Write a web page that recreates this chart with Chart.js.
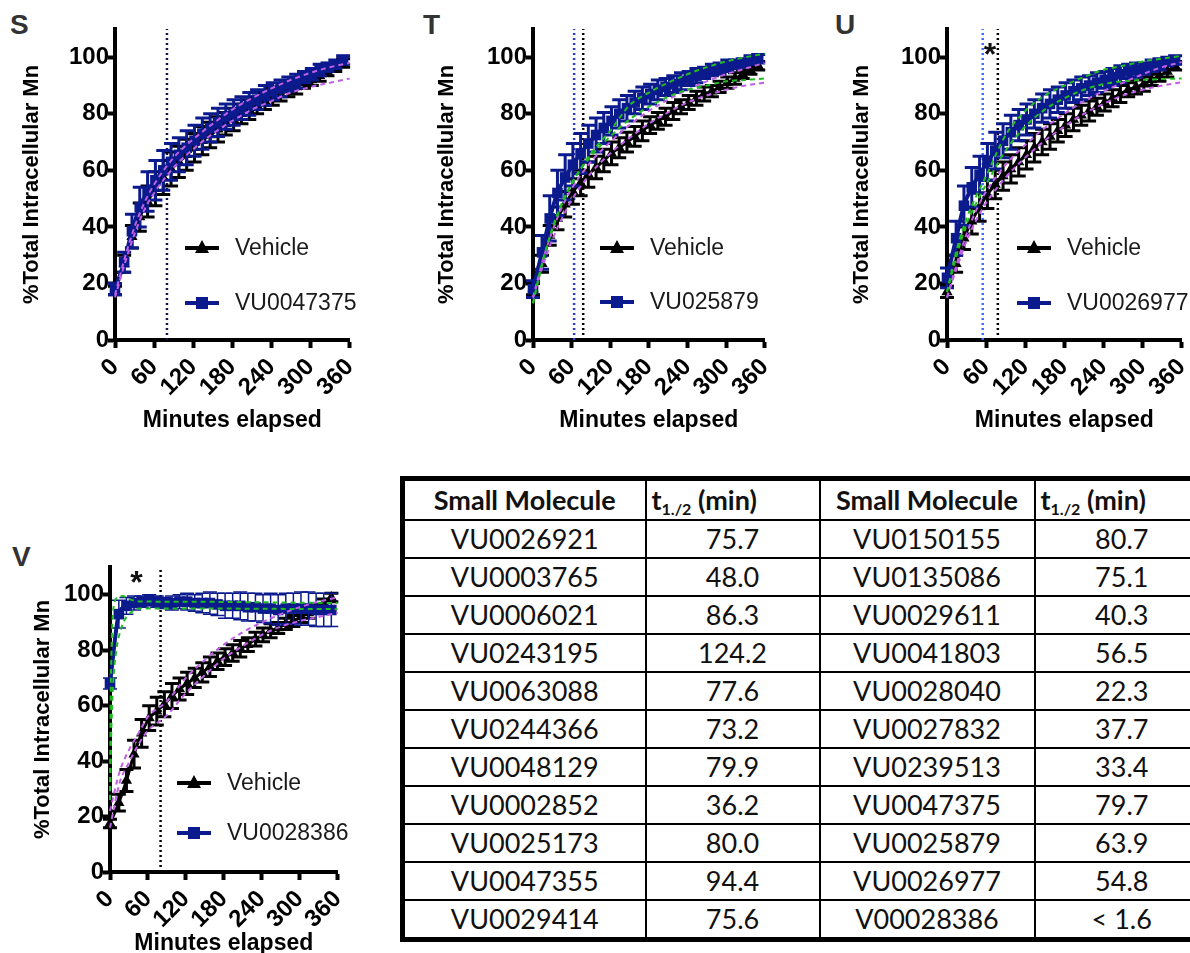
<!DOCTYPE html>
<html>
<head>
<meta charset="utf-8">
<script src="https://cdn.jsdelivr.net/npm/chart.js@4.4.1/dist/chart.umd.min.js"></script>
<style>
html, body { margin: 0; padding: 0; width: 1190px; height: 953px; overflow: hidden; background: #fff; }
canvas { position: absolute; }
.letter { position: absolute; font: bold 28px 'Liberation Sans', Arial, sans-serif; line-height: 28px; color: #333; }
#halfTable { position: absolute; left: 400px; top: 476px; width: 808px; border-collapse: collapse; table-layout: fixed;
  border: 5px solid #000; font-family: Lato, 'Open Sans', sans-serif; font-size: 27px; color: #111; }
#halfTable td, #halfTable th { border: 2px solid #000; padding: 0; text-align: center; height: 36px; line-height: 34px; white-space: nowrap; overflow: hidden; }
#halfTable th { height: 38px; line-height: 36px; font-weight: bold; }
#halfTable th.tcol { text-align: left; padding-left: 5px; }
#halfTable sub { font-size: 16px; line-height: 0; vertical-align: -5px; }
</style>
</head>
<body>
<div class="letter" style="left:10px;top:11px">S</div>
<div class="letter" style="left:423px;top:11px">T</div>
<div class="letter" style="left:835px;top:11px">U</div>
<div class="letter" style="left:12px;top:543px">V</div>

<canvas id="chartS" width="375" height="434" style="left:0;top:0"></canvas>
<canvas id="chartT" width="390" height="434" style="left:400px;top:0"></canvas>
<canvas id="chartU" width="417" height="434" style="left:790px;top:0"></canvas>
<canvas id="chartV" width="363" height="427" style="left:0;top:530px"></canvas>

<table id="halfTable">
  <colgroup><col style="width:243px"><col style="width:174px"><col style="width:215px"><col style="width:176px"></colgroup>
  <thead><tr>
    <th>Small Molecule</th><th class="tcol">t<sub>1./2</sub> (min)</th>
    <th>Small Molecule</th><th class="tcol">t<sub>1./2</sub> (min)</th>
  </tr></thead>
  <tbody></tbody>
</table>

<script>
// sampling times (min) and axis ticks
const times = [0, 14, 26, 38, 50, 62, 74, 86, 98, 110, 122, 134, 146, 158, 170, 182, 194, 206, 218, 230, 242, 254, 266, 278, 290, 302, 314, 326, 338, 350];
const bandTimes = [0, 15, 30, 45, 60, 90, 120, 150, 180, 210, 240, 270, 300, 330, 360];
const xTicks = [0, 60, 120, 180, 240, 300, 360];
const yTicks = [0, 20, 40, 60, 80, 100];

// panel S - VU0047375
const vehS    = [17.5, 27, 36.5, 43.5, 49, 53.5, 57.5, 60.5, 63, 65.5, 68, 70.5, 72.5, 74.5, 76.5, 78, 80, 81.5, 83, 84.5, 86, 87, 88.5, 89.5, 91, 92, 93.5, 95, 96.5, 98];
const vehSErr = [1.5, 3, 4, 5, 5.5, 6, 6, 6, 5.5, 5.5, 5, 5, 4.5, 4.5, 4, 4, 3.5, 3.5, 3, 3, 3, 2.5, 2.5, 2.5, 2, 2, 2, 1.5, 1.5, 1.5];
const cmpS    = [18, 27.5, 38.5, 47, 52.5, 56.5, 60, 63, 65.5, 68, 70.5, 73, 75, 77, 79, 80.5, 82, 83.5, 85, 86.5, 88, 89, 90.5, 91.5, 93, 94, 95.5, 96.5, 97.5, 99];
const cmpSErr = [2, 3.5, 6, 7, 7, 7, 7, 6.5, 6, 6, 5.5, 5.5, 5, 5, 4.5, 4.5, 4, 4, 3.5, 3.5, 3, 3, 2.5, 2.5, 2, 2, 2, 1.5, 1.5, 1.5];
const purpleHiS = [16, 29, 40, 48.5, 55, 64.5, 71, 76.5, 81.5, 85.5, 89, 92, 94.5, 96.5, 98];
const purpleLoS = [15, 27, 37.5, 46, 52, 61, 67.5, 73, 77.5, 81.5, 84.5, 87.5, 89.5, 91, 92.5];

// panel T - VU025879
const vehT    = [18, 27, 37, 43, 48, 52.5, 55.5, 58.5, 61, 63.5, 66, 68, 70, 72, 74, 76, 77.5, 79, 81, 82.5, 84, 85.5, 87, 88, 89.5, 91, 92.5, 94, 95.5, 97];
const vehTErr = [2, 3, 3.5, 4, 4.5, 4.5, 4.5, 4.5, 4, 4, 4, 3.5, 3.5, 3.5, 3.5, 3, 3, 3, 3, 2.5, 2.5, 2.5, 2.5, 2, 2, 2, 2, 1.5, 1.5, 1.5];
const cmpT    = [18, 31, 43, 52, 57.5, 62, 66, 69.5, 72.5, 75, 77.5, 80, 82, 84, 85.5, 87, 88.5, 89.5, 90.5, 91.5, 92.5, 93.5, 94.5, 95.5, 96, 97, 97.5, 98, 99, 99.5];
const cmpTErr = [3, 6, 8, 8, 8, 7.5, 7, 6.5, 6, 5.5, 5, 5, 4.5, 4, 4, 3.5, 3.5, 3, 3, 3, 2.5, 2.5, 2, 2, 2, 2, 1.5, 1.5, 1.5, 1.5];
const purpleHiT = [15, 28, 38.5, 47, 53.5, 63, 70, 76, 81, 85, 88.5, 91.5, 94, 96, 98];
const purpleLoT = [15, 26, 35.5, 43, 49.5, 59, 66, 71.5, 76.5, 80.5, 84, 86.5, 88.5, 90, 91];
const greenHiT  = [13, 28, 39, 48, 55, 66, 74, 83, 87.5, 91, 94, 96.5, 98.5, 100, 101.3];
const greenLoT  = [13, 27.5, 39.5, 48.5, 55.5, 65, 72, 78, 82.5, 86, 88.5, 90, 91.5, 92, 92.5];

// panel U - VU0026977
const vehU    = [17, 27, 36, 42, 47, 51.5, 55, 58, 60.5, 63, 65.5, 68, 70, 72, 74, 76, 78, 79.5, 81, 82.5, 84, 85.5, 87, 88.5, 89.5, 90.5, 92, 93.5, 95, 97];
const vehUErr = [2, 3, 4, 4.5, 5, 5, 5, 5, 5, 5, 5, 5, 4.5, 4.5, 4, 4, 4, 3.5, 3.5, 3, 3, 3, 3, 2.5, 2.5, 2.5, 2, 2, 2, 1.5];
const cmpU    = [22, 36, 47.5, 54, 58.5, 63, 67, 70.5, 73.5, 76, 78, 80, 82, 83.5, 85, 86.5, 88, 89, 90, 91, 92, 93, 94, 95, 95.5, 96, 97, 97.5, 98.5, 99];
const cmpUErr = [3.5, 6, 7, 7, 6.5, 6.5, 6.5, 6, 6, 5.5, 5.5, 5, 5, 5, 4.5, 4.5, 4, 4, 3.5, 3.5, 3, 3, 3, 2.5, 2.5, 2, 2, 2, 1.5, 1.5];
const purpleHiU = [15, 27, 37.5, 46, 52.5, 62, 69, 75, 80, 84.5, 88, 91, 94, 96.5, 98.3];
const purpleLoU = [15, 25.5, 35, 42.5, 48.5, 57.5, 64.5, 70.5, 75.5, 80, 83.5, 86.5, 88.5, 90, 91.2];
const greenHiU  = [17, 32, 43, 51, 58, 72.5, 81, 86.5, 90, 93, 95.5, 97, 98.5, 99.5, 100.5];
const greenLoU  = [17, 30, 41, 48.5, 55, 67, 75.5, 81.5, 85.5, 88.5, 90.5, 91.5, 92, 92.3, 92.5];

// panel V - VU0028386
const vehV    = [17.5, 25, 33, 42.5, 50, 55.5, 58, 60.5, 63.5, 66, 68, 70, 72, 74, 76, 77.5, 79, 80.5, 82, 84, 85.5, 87, 88, 89.5, 90.5, 92, 93.5, 95, 97, 99];
const vehVErr = [1.5, 3, 4, 5, 5, 4.5, 5, 4.5, 4.5, 4, 4, 3.5, 3.5, 3.5, 3, 3, 3, 3, 2.5, 2.5, 2.5, 2.5, 2, 2, 2, 2, 2, 1.5, 1.5, 1.5];
const cmpV    = [68, 93, 96, 97, 97.5, 98, 97.5, 97, 97, 97.5, 97.5, 97, 97, 97, 96.5, 96, 96, 96, 95.5, 95.5, 95, 95, 94.5, 95, 95, 95, 95, 94.5, 94.5, 94.5];
const cmpVErr = [2, 5, 3, 2.5, 2, 2, 2, 2, 2.5, 2.5, 3, 3, 3.5, 4, 4, 4.5, 4.5, 5, 5, 5, 5, 5.5, 5.5, 5.5, 5.5, 6, 6, 6, 6, 6];
const purpleHiV = [22, 36, 44, 50, 56, 61.5, 70, 76.5, 82, 86.5, 90, 93, 95.5, 97.5, 99];
const purpleLoV = [16, 32, 39.5, 46, 51, 56.5, 64.5, 71, 77, 81.5, 85.5, 88.5, 90.5, 92, 93.5];
const greenTimesV = [0, 1, 3, 6, 12, 20, 30, 45, 90, 180, 270, 360];
const greenHiV  = [26, 60, 85, 96, 99, 99.5, 98.5, 97.6, 97.5, 97.4, 97.2, 97];
const greenLoTimesV = [0, 2, 5, 10, 18, 26, 36, 46, 90, 180, 270, 360];
const greenLoV  = [26, 50, 68, 80, 88, 92, 94, 95, 95, 95, 94.9, 94.8];

// half-life table
const molLeft  = ['VU0026921', 'VU0003765', 'VU0006021', 'VU0243195', 'VU0063088', 'VU0244366', 'VU0048129', 'VU0002852', 'VU0025173', 'VU0047355', 'VU0029414'];
const halfLeft = ['75.7', '48.0', '86.3', '124.2', '77.6', '73.2', '79.9', '36.2', '80.0', '94.4', '75.6'];
const molRight  = ['VU0150155', 'VU0135086', 'VU0029611', 'VU0041803', 'VU0028040', 'VU0027832', 'VU0239513', 'VU0047375', 'VU0025879', 'VU0026977', 'V00028386'];
const halfRight = ['80.7', '75.1', '40.3', '56.5', '22.3', '37.7', '33.4', '79.7', '63.9', '54.8', '< 1.6'];

const FONT = "'Liberation Sans', Arial, sans-serif";
const NAVY = '#0b1a8c';
const PURPLE = '#bf5fe6';
const GREEN = '#22bb22';

// error bars drawn right before their own dataset
const errorBars = {
    id: 'errorBars',
    beforeDatasetDraw(chart, args) {
        const ds = chart.data.datasets[args.index];
        if (!ds.errors) return;
        const xs = chart.scales.x, ys = chart.scales.y, ctx = chart.ctx;
        ctx.save();
        ctx.strokeStyle = ds.borderColor;
        ctx.lineWidth = ds.errorWidth;
        ds.data.forEach((p, i) => {
            const px = xs.getPixelForValue(p.x);
            const hi = ys.getPixelForValue(p.y + ds.errors[i]);
            const lo = ys.getPixelForValue(p.y - ds.errors[i]);
            ctx.beginPath();
            ctx.moveTo(px, hi); ctx.lineTo(px, lo);
            ctx.moveTo(px - 7, hi); ctx.lineTo(px + 7, hi);
            ctx.moveTo(px - 7, lo); ctx.lineTo(px + 7, lo);
            ctx.stroke();
        });
        ctx.restore();
    }
};

// legend inside the plot + asterisks
const panelLegend = {
    id: 'panelLegend',
    afterDatasetsDraw(chart, args, opts) {
        const ctx = chart.ctx, area = chart.chartArea;
        ctx.save();
        opts.items.forEach((it, i) => {
            const x0 = area.left + opts.dx;
            const y0 = area.top + opts.dy + i * opts.gap;
            const cx = x0 + 17;
            ctx.strokeStyle = it.color;
            ctx.fillStyle = it.color;
            ctx.lineWidth = 4;
            ctx.beginPath(); ctx.moveTo(x0, y0); ctx.lineTo(x0 + 34, y0); ctx.stroke();
            if (it.shape === 'triangle') {
                ctx.beginPath();
                ctx.moveTo(cx, y0 - 8); ctx.lineTo(cx + 7, y0 + 5); ctx.lineTo(cx - 7, y0 + 5);
                ctx.closePath(); ctx.fill();
            } else {
                ctx.fillRect(cx - 6, y0 - 6, 12, 12);
            }
            ctx.fillStyle = '#1a1a1a';
            ctx.font = '23px ' + FONT;
            ctx.textBaseline = 'middle';
            ctx.textAlign = 'left';
            ctx.fillText(it.label, x0 + 50, y0 + 1);
        });
        (opts.stars || []).forEach(s => {
            ctx.fillStyle = '#111';
            ctx.font = 'bold 32px ' + FONT;
            ctx.textAlign = 'center';
            ctx.textBaseline = 'middle';
            ctx.fillText('*', chart.scales.x.getPixelForValue(s.x), chart.scales.y.getPixelForValue(s.y) + 6);
        });
        ctx.restore();
    }
};

function pts(t, v) {
    return t.map((x, i) => ({ x: x, y: v[i] }));
}

function buildPanel(canvasId, p) {
    const datasets = [];
    p.bands.forEach(b => datasets.push({
        data: pts(b.t, b.v), borderColor: b.color, borderWidth: 2, borderDash: [5, 4],
        pointRadius: 0, cubicInterpolationMode: 'monotone', fill: false, clip: false
    }));
    datasets.push({
        data: pts(times, p.cmp), errors: p.cmpErr, errorWidth: p.cmpErrWidth,
        borderColor: NAVY, backgroundColor: NAVY, borderWidth: 4,
        pointStyle: 'rect', pointRadius: 7.5, pointBorderWidth: 0,
        cubicInterpolationMode: 'monotone', clip: false
    });
    datasets.push({
        data: pts(times, p.veh), errors: p.vehErr, errorWidth: 3,
        borderColor: '#000', backgroundColor: '#000', borderWidth: 3,
        pointStyle: 'triangle', pointRadius: 6.5, pointBorderWidth: 0,
        cubicInterpolationMode: 'monotone', clip: false
    });
    p.halfLines.forEach(h => datasets.push({
        data: [{ x: h.t, y: 0 }, { x: h.t, y: 110 }], borderColor: h.color,
        borderWidth: 2.5, borderDash: [2, 3], pointRadius: 0
    }));

    new Chart(document.getElementById(canvasId), {
        type: 'line',
        data: { datasets: datasets },
        plugins: [errorBars, panelLegend],
        options: {
            responsive: false,
            animation: false,
            devicePixelRatio: 1,
            layout: { padding: { left: p.padL, top: p.padT, right: 20, bottom: 0 } },
            plugins: {
                legend: { display: false },
                tooltip: { enabled: false },
                panelLegend: {
                    dx: p.legendDx, dy: p.legendDy, gap: p.legendGap, stars: p.stars,
                    items: [
                        { label: 'Vehicle', color: '#000', shape: 'triangle' },
                        { label: p.name, color: NAVY, shape: 'rect' }
                    ]
                }
            },
            scales: {
                x: {
                    type: 'linear', min: 0, max: 360,
                    afterBuildTicks: s => { s.ticks = xTicks.map(v => ({ value: v })); },
                    afterFit: s => { s.height = p.xH; },
                    ticks: { autoSkip: false, minRotation: 45, maxRotation: 45, padding: 5, color: '#000',
                             font: { family: FONT, size: 24, weight: 'bold' } },
                    grid: { drawOnChartArea: false, tickLength: 8, tickWidth: 4, tickColor: '#000' },
                    border: { color: '#000', width: 4 },
                    title: { display: true, text: 'Minutes elapsed', color: '#000', padding: 0,
                             font: { family: FONT, size: 23, weight: 'bold' } }
                },
                y: {
                    min: 0, max: 110,
                    afterBuildTicks: s => { s.ticks = yTicks.map(v => ({ value: v })); },
                    afterFit: s => { s.width = p.yW; },
                    ticks: { padding: -1, color: '#000', font: { family: FONT, size: 24, weight: 'bold' } },
                    grid: { drawOnChartArea: false, tickLength: 7, tickWidth: 4, tickColor: '#000' },
                    border: { color: '#000', width: 4 },
                    title: { display: true, text: '%Total Intracellular Mn', color: '#000', padding: 0,
                             font: { family: FONT, size: 22, weight: 'bold' } }
                }
            }
        }
    });
}

buildPanel('chartS', {
    name: 'VU0047375', veh: vehS, vehErr: vehSErr, cmp: cmpS, cmpErr: cmpSErr, cmpErrWidth: 3,
    bands: [
        { t: bandTimes, v: purpleHiS, color: PURPLE },
        { t: bandTimes, v: purpleLoS, color: PURPLE }
    ],
    halfLines: [{ t: 79.7, color: '#14144a' }],
    padL: 19, yW: 96, padT: 29, xH: 94, legendDx: 70, legendDy: 219, legendGap: 55
});

buildPanel('chartT', {
    name: 'VU025879', veh: vehT, vehErr: vehTErr, cmp: cmpT, cmpErr: cmpTErr, cmpErrWidth: 3,
    bands: [
        { t: bandTimes, v: greenHiT, color: GREEN },
        { t: bandTimes, v: greenLoT, color: GREEN },
        { t: bandTimes, v: purpleHiT, color: PURPLE },
        { t: bandTimes, v: purpleLoT, color: PURPLE }
    ],
    halfLines: [{ t: 63.9, color: '#2a3fbf' }, { t: 78, color: '#000' }],
    padL: 34, yW: 99, padT: 29, xH: 94, legendDx: 67, legendDy: 219, legendGap: 54
});

buildPanel('chartU', {
    name: 'VU0026977', veh: vehU, vehErr: vehUErr, cmp: cmpU, cmpErr: cmpUErr, cmpErrWidth: 3,
    bands: [
        { t: bandTimes, v: greenHiU, color: GREEN },
        { t: bandTimes, v: greenLoU, color: GREEN },
        { t: bandTimes, v: purpleHiU, color: PURPLE },
        { t: bandTimes, v: purpleLoU, color: PURPLE }
    ],
    halfLines: [{ t: 54.8, color: '#3a6cff' }, { t: 78, color: '#000' }],
    stars: [{ x: 66, y: 102.5 }],
    padL: 59, yW: 98, padT: 29, xH: 94, legendDx: 70, legendDy: 219, legendGap: 55
});

buildPanel('chartV', {
    name: 'VU0028386', veh: vehV, vehErr: vehVErr, cmp: cmpV, cmpErr: cmpVErr, cmpErrWidth: 1.5,
    bands: [
        { t: greenTimesV, v: greenHiV, color: GREEN },
        { t: greenLoTimesV, v: greenLoV, color: GREEN },
        { t: bandTimes, v: purpleHiV, color: PURPLE },
        { t: bandTimes, v: purpleLoV, color: PURPLE }
    ],
    halfLines: [{ t: 80, color: '#000' }],
    stars: [{ x: 42, y: 106 }],
    padL: 30, yW: 80, padT: 37, xH: 85, legendDx: 67, legendDy: 216, legendGap: 50
});

// fill the half-life table
const tbody = document.querySelector('#halfTable tbody');
molLeft.forEach((m, i) => {
    const tr = document.createElement('tr');
    [m, halfLeft[i], molRight[i], halfRight[i]].forEach(txt => {
        const td = document.createElement('td');
        td.textContent = txt;
        tr.appendChild(td);
    });
    tbody.appendChild(tr);
});
</script>
</body>
</html>
